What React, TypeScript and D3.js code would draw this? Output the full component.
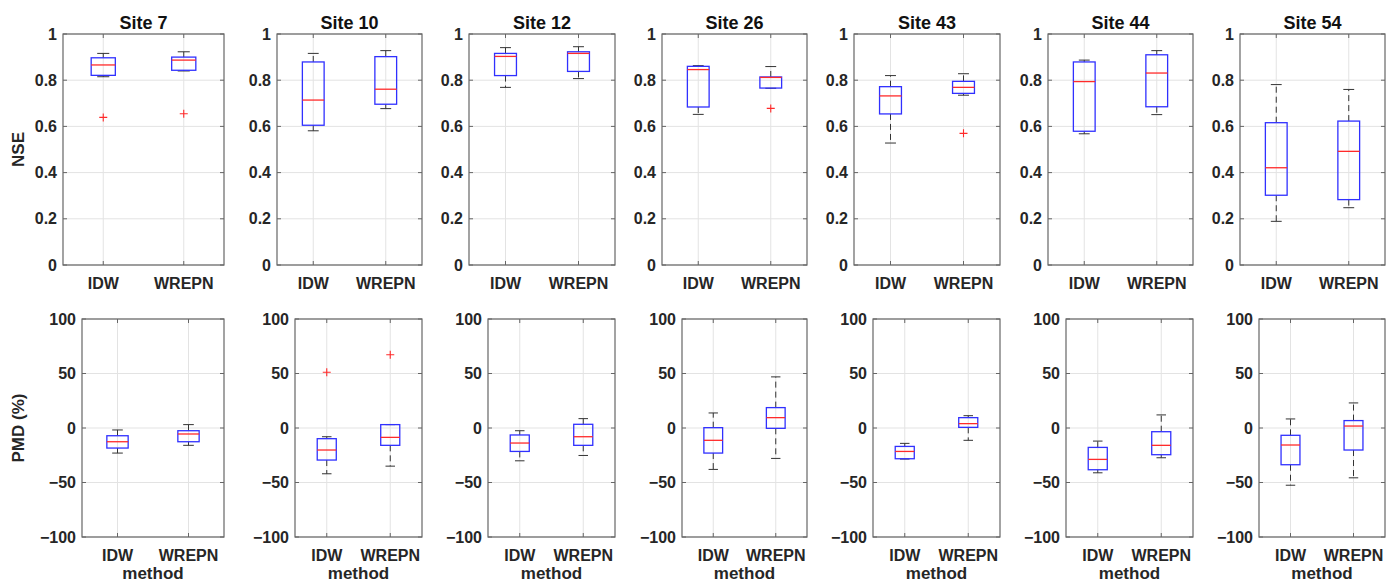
import React, { useEffect, useRef } from 'react';
import * as d3 from 'd3';

const sites = ['Site 7', 'Site 10', 'Site 12', 'Site 26', 'Site 43', 'Site 44', 'Site 54'];
const methods = ['IDW', 'WREPN'];
const nseTicks = [0, 0.2, 0.4, 0.6, 0.8, 1];
const pmdTicks = [-100, -50, 0, 50, 100];

// [lower whisker, q1, median, q3, upper whisker]
const nseIDW = [
    [0.815, 0.821, 0.866, 0.897, 0.916],
    [0.581, 0.605, 0.714, 0.879, 0.916],
    [0.769, 0.820, 0.903, 0.916, 0.941],
    [0.652, 0.684, 0.846, 0.860, 0.863],
    [0.528, 0.654, 0.732, 0.772, 0.820],
    [0.568, 0.579, 0.794, 0.879, 0.887],
    [0.189, 0.302, 0.421, 0.616, 0.781]
];
const nseWREPN = [
    [0.840, 0.843, 0.887, 0.900, 0.923],
    [0.677, 0.696, 0.761, 0.902, 0.928],
    [0.807, 0.838, 0.916, 0.923, 0.945],
    [0.765, 0.766, 0.812, 0.814, 0.859],
    [0.735, 0.743, 0.769, 0.795, 0.828],
    [0.651, 0.685, 0.831, 0.910, 0.928],
    [0.248, 0.283, 0.492, 0.623, 0.760]
];
const nseOutIDW = [[0.639], [], [], [], [], [], []];
const nseOutWREPN = [[0.655], [], [], [0.678], [0.570], [], []];

const pmdIDW = [
    [-23.0, -18.4, -12.6, -7.1, -1.8],
    [-42.0, -29.4, -20.2, -9.8, -8.0],
    [-30.1, -21.5, -13.8, -6.4, -2.5],
    [-38.0, -23.0, -11.3, 0.3, 13.8],
    [-28.5, -28.2, -21.5, -16.9, -14.1],
    [-41.1, -38.3, -28.8, -17.8, -12.0],
    [-52.5, -33.7, -15.6, -6.7, 8.3]
];
const pmdWREPN = [
    [-15.9, -12.6, -5.5, -2.5, 3.1],
    [-35.0, -15.9, -8.6, 3.1, 3.1],
    [-25.2, -15.9, -8.0, 3.4, 8.6],
    [-27.9, -0.3, 9.5, 18.7, 46.9],
    [-11.3, 0.6, 4.0, 9.5, 11.3],
    [-27.3, -24.5, -15.9, -3.4, 12.0],
    [-45.7, -20.2, 1.8, 6.8, 23.0]
];
const pmdOutIDW = [[], [51.2], [], [], [], [], []];
const pmdOutWREPN = [[], [67.2], [], [], [], [], []];

// panel placement (pixels)
const W = 1397, H = 584;
const rights = [224, 422, 615, 807, 1000, 1193, 1385];
const topLefts = [63, 277, 469, 662, 854, 1048, 1240];
const botLefts = [82, 295, 488, 682, 873, 1066, 1259];
const topRow = { y0: 34, y1: 265 };
const botRow = { y0: 319, y1: 537 };

const FONT = '"Liberation Sans", Arial, sans-serif';
const TXT = '#262626';

const fmt = (v: number) => (v < 0 ? '\u2212' + Math.abs(v) : String(v));

export default function App() {
    const ref = useRef<SVGSVGElement>(null);

    useEffect(() => {
        const svg = d3.select(ref.current);
        svg.selectAll('*').remove();

        const drawPanel = (
            left: number, right: number, row: { y0: number, y1: number },
            domain: [number, number], ticks: number[],
            stats: number[][], outliers: number[][], bottom: boolean, title: string | null
        ) => {
            const x = d3.scalePoint().domain(methods).range([left, right]).padding(0.5);
            const y = d3.scaleLinear().domain(domain).range([row.y1, row.y0]);
            const step = x.step();
            const bw = step * 0.3;
            const g = svg.append('g');

            // grid
            g.selectAll('.hgrid').data(ticks).enter().append('line')
                .attr('x1', left).attr('x2', right)
                .attr('y1', d => y(d)).attr('y2', d => y(d))
                .attr('stroke', '#e3e3e3').attr('stroke-width', 1);
            g.selectAll('.vgrid').data(methods).enter().append('line')
                .attr('x1', d => x(d)!).attr('x2', d => x(d)!)
                .attr('y1', row.y0).attr('y2', row.y1)
                .attr('stroke', '#e3e3e3').attr('stroke-width', 1);

            // boxes
            methods.forEach((m, i) => {
                const s = stats[i];
                const cx = x(m)!;
                const bg = g.append('g');
                // whiskers
                bg.append('line').attr('x1', cx).attr('x2', cx).attr('y1', y(s[3])).attr('y2', y(s[4]))
                    .attr('stroke', '#333').attr('stroke-width', 1).attr('stroke-dasharray', '6,4');
                bg.append('line').attr('x1', cx).attr('x2', cx).attr('y1', y(s[1])).attr('y2', y(s[0]))
                    .attr('stroke', '#333').attr('stroke-width', 1).attr('stroke-dasharray', '6,4');
                [s[0], s[4]].forEach(v => {
                    bg.append('line').attr('x1', cx - bw / 4).attr('x2', cx + bw / 4)
                        .attr('y1', y(v)).attr('y2', y(v))
                        .attr('stroke', '#333').attr('stroke-width', 1);
                });
                bg.append('rect').attr('x', cx - bw / 2).attr('width', bw)
                    .attr('y', y(s[3])).attr('height', Math.max(0.5, y(s[1]) - y(s[3])))
                    .attr('fill', 'none').attr('stroke', '#3030ff').attr('stroke-width', 1.3);
                bg.append('line').attr('x1', cx - bw / 2).attr('x2', cx + bw / 2)
                    .attr('y1', y(s[2])).attr('y2', y(s[2]))
                    .attr('stroke', '#ff2a2a').attr('stroke-width', 1.3);
                outliers[i].forEach(v => {
                    bg.append('path')
                        .attr('d', `M${cx - 4},${y(v)}H${cx + 4}M${cx},${y(v) - 4}V${y(v) + 4}`)
                        .attr('stroke', '#ff2a2a').attr('stroke-width', 1.1).attr('fill', 'none');
                });
            });

            // ticks (inward, both sides)
            ticks.forEach(t => {
                g.append('path').attr('d', `M${left},${y(t)}h4M${right},${y(t)}h-4`)
                    .attr('stroke', '#666').attr('fill', 'none');
            });
            methods.forEach(m => {
                g.append('path').attr('d', `M${x(m)},${row.y1}v-4M${x(m)},${row.y0}v4`)
                    .attr('stroke', '#666').attr('fill', 'none');
            });

            // frame
            g.append('rect').attr('x', left).attr('y', row.y0)
                .attr('width', right - left).attr('height', row.y1 - row.y0)
                .attr('fill', 'none').attr('stroke', '#666').attr('stroke-width', 1.2);

            // tick labels
            g.selectAll('.ylab').data(ticks).enter().append('text')
                .attr('x', left - 6).attr('y', d => y(d))
                .attr('text-anchor', 'end').attr('dominant-baseline', 'central')
                .style('font-family', FONT).style('font-weight', 'bold').style('font-size', '16px')
                .attr('fill', TXT).text(d => fmt(d));
            g.selectAll('.xlab').data(methods).enter().append('text')
                .attr('x', d => x(d)!).attr('y', row.y1 + 24)
                .attr('text-anchor', 'middle')
                .style('font-family', FONT).style('font-weight', 'bold').style('font-size', '16px')
                .attr('fill', TXT).text(d => d);

            if (title) {
                g.append('text').attr('x', (left + right) / 2).attr('y', row.y0 - 5)
                    .attr('text-anchor', 'middle')
                    .style('font-family', FONT).style('font-weight', 'bold').style('font-size', '18px')
                    .attr('fill', '#111').text(title);
            }
            if (bottom) {
                g.append('text').attr('x', (left + right) / 2).attr('y', row.y1 + 42)
                    .attr('text-anchor', 'middle')
                    .style('font-family', FONT).style('font-weight', 'bold').style('font-size', '17px')
                    .attr('fill', TXT).text('method');
            }
        };

        sites.forEach((site, i) => {
            drawPanel(topLefts[i], rights[i], topRow, [0, 1], nseTicks,
                [nseIDW[i], nseWREPN[i]], [nseOutIDW[i], nseOutWREPN[i]], false, site);
            drawPanel(botLefts[i], rights[i], botRow, [-100, 100], pmdTicks,
                [pmdIDW[i], pmdWREPN[i]], [pmdOutIDW[i], pmdOutWREPN[i]], true, null);
        });

        // y axis labels
        svg.append('text')
            .attr('transform', `translate(24, ${(topRow.y0 + topRow.y1) / 2}) rotate(-90)`)
            .attr('text-anchor', 'middle')
            .style('font-family', FONT).style('font-weight', 'bold').style('font-size', '17px')
            .attr('fill', TXT).text('NSE');
        svg.append('text')
            .attr('transform', `translate(24, ${(botRow.y0 + botRow.y1) / 2}) rotate(-90)`)
            .attr('text-anchor', 'middle')
            .style('font-family', FONT).style('font-weight', 'bold').style('font-size', '17px')
            .attr('fill', TXT).text('PMD (%)');
    }, []);

    return (
        <svg ref={ref} width={W} height={H}
            style={{ position: 'absolute', left: 0, top: 0, background: '#fff' }} />
    );
}
